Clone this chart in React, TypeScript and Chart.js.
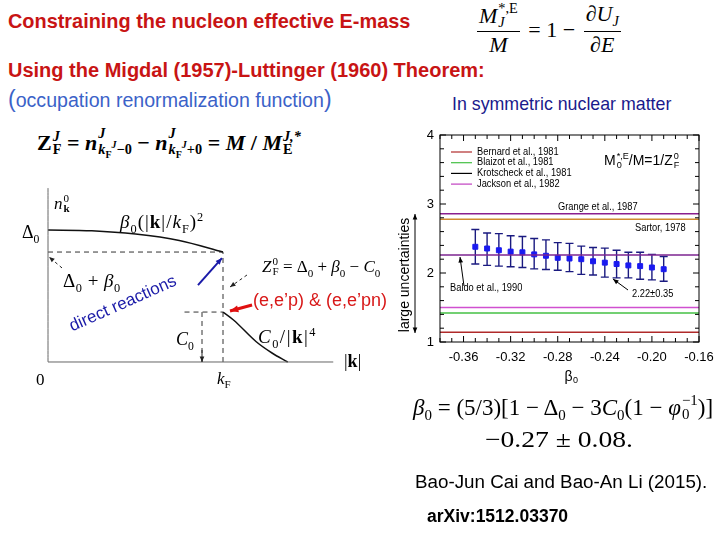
import React, { useEffect, useRef } from "react";
import { Chart, registerables } from "chart.js";
Chart.register(...registerables);

// ---------- main chart data ----------
const betaValues = [-0.35, -0.34, -0.33, -0.32, -0.31, -0.3, -0.29, -0.28, -0.27, -0.26, -0.25, -0.24, -0.23, -0.22, -0.21, -0.2, -0.19];
const mStarValues = [2.38, 2.355, 2.33, 2.31, 2.3, 2.27, 2.25, 2.22, 2.21, 2.2, 2.17, 2.15, 2.13, 2.11, 2.1, 2.08, 2.055];
const errUpper = [2.63, 2.58, 2.57, 2.54, 2.53, 2.5, 2.48, 2.44, 2.43, 2.39, 2.37, 2.36, 2.33, 2.3, 2.3, 2.27, 2.24];
const errLower = [2.13, 2.11, 2.1, 2.09, 2.08, 2.06, 2.05, 2.04, 2.02, 1.98, 1.97, 1.94, 1.93, 1.93, 1.91, 1.9, 1.88];

const refNames = ["Grange et al., 1987", "Sartor, 1978", "Baldo et al., 1990", "Jackson et al., 1982", "Blaizot et al., 1981", "Bernard et al., 1981"];
const refValues = [2.86, 2.78, 2.26, 1.5, 1.42, 1.14];
const refColors = ["#8a1f8f", "#d08a30", "#7d2590", "#d050d0", "#44c044", "#b02a2a"];

const legendNames = ["Bernard et al., 1981", "Blaizot et al., 1981", "Krotscheck et al., 1981", "Jackson et al., 1982"];
const legendColors = ["#b02a2a", "#44c044", "#000000", "#c040c0"];

const xTickValues = [-0.36, -0.32, -0.28, -0.24, -0.2, -0.16];
const yTickValues = [1, 2, 3, 4];
const xRange = [-0.38, -0.16];
const yRange = [1, 4];

// ---------- schematic diagram data (k/kF, n) ----------
const upperK = [0, 0.25, 0.5, 0.75, 1.0];
const upperN = [0.88, 0.875, 0.853, 0.81, 0.733];
const lowerK = [1.0, 1.06, 1.19, 1.28, 1.37];
const lowerN = [0.333, 0.28, 0.135, 0.06, 0.0];
const zLevel = 0.733;
const cLevel = 0.333;

function drawArrow(ctx: CanvasRenderingContext2D, x1: number, y1: number, x2: number, y2: number, color: string, width: number, head: number, dash: number[] = [], both = false) {
  ctx.save();
  ctx.strokeStyle = color;
  ctx.fillStyle = color;
  ctx.lineWidth = width;
  ctx.setLineDash(dash);
  ctx.beginPath();
  ctx.moveTo(x1, y1);
  ctx.lineTo(x2, y2);
  ctx.stroke();
  ctx.setLineDash([]);
  const tip = (tx: number, ty: number, fx: number, fy: number) => {
    const a = Math.atan2(ty - fy, tx - fx);
    ctx.beginPath();
    ctx.moveTo(tx, ty);
    ctx.lineTo(tx - head * Math.cos(a - 0.4), ty - head * Math.sin(a - 0.4));
    ctx.lineTo(tx - head * Math.cos(a + 0.4), ty - head * Math.sin(a + 0.4));
    ctx.closePath();
    ctx.fill();
  };
  tip(x2, y2, x1, y1);
  if (both) tip(x1, y1, x2, y2);
  ctx.restore();
}

function text(ctx: CanvasRenderingContext2D, s: string, x: number, y: number, sx = 0.93) {
  ctx.save();
  ctx.translate(x, y);
  ctx.scale(sx, 1);
  ctx.fillText(s, 0, 0);
  ctx.restore();
}

const mainPlugin = {
  id: "mainDeco",
  beforeDatasetsDraw(chart: any) {
    const { ctx, scales } = chart;
    const x = scales.x, y = scales.y;
    ctx.save();
    ctx.strokeStyle = "#1a1a80";
    ctx.lineWidth = 1.4;
    betaValues.forEach((b, i) => {
      const px = x.getPixelForValue(b);
      const yt = y.getPixelForValue(errUpper[i]);
      const yb = y.getPixelForValue(errLower[i]);
      ctx.beginPath();
      ctx.moveTo(px, yt);
      ctx.lineTo(px, yb);
      ctx.moveTo(px - 4, yt);
      ctx.lineTo(px + 4, yt);
      ctx.moveTo(px - 4, yb);
      ctx.lineTo(px + 4, yb);
      ctx.stroke();
    });
    ctx.restore();
  },
  afterDraw(chart: any) {
    const { ctx, chartArea: a, scales } = chart;
    const x = scales.x, y = scales.y;
    ctx.save();
    ctx.strokeStyle = "#000";
    ctx.lineWidth = 1;
    ctx.strokeRect(a.left, a.top, a.right - a.left, a.bottom - a.top);
    ctx.beginPath();
    for (let v = -0.38; v <= -0.1599; v += 0.01) {
      const px = x.getPixelForValue(v);
      const major = xTickValues.some((t) => Math.abs(t - v) < 1e-6);
      const L = major ? 6 : 4;
      ctx.moveTo(px, a.bottom);
      ctx.lineTo(px, a.bottom - L);
      ctx.moveTo(px, a.top);
      ctx.lineTo(px, a.top + L);
    }
    for (let v = 1; v <= 4.0001; v += 0.2) {
      const py = y.getPixelForValue(v);
      const major = yTickValues.some((t) => Math.abs(t - v) < 1e-6);
      const L = major ? 6 : 4;
      ctx.moveTo(a.left, py);
      ctx.lineTo(a.left + L, py);
      ctx.moveTo(a.right, py);
      ctx.lineTo(a.right - L, py);
    }
    ctx.stroke();

    ctx.font = '10px "Liberation Sans", Arial, sans-serif';
    ctx.textBaseline = "middle";
    ctx.fillStyle = "#000";
    legendNames.forEach((n, i) => {
      const ly = a.top + 17 + i * 10.7;
      ctx.strokeStyle = legendColors[i];
      ctx.lineWidth = 1.2;
      ctx.beginPath();
      ctx.moveTo(a.left + 11, ly);
      ctx.lineTo(a.left + 32, ly);
      ctx.stroke();
      text(ctx, n, a.left + 37, ly);
    });

    text(ctx, refNames[0], a.left + 118, a.top + 72);
    text(ctx, refNames[1], a.left + 195, a.top + 93);
    text(ctx, refNames[2], a.left + 10, a.top + 153);
    text(ctx, "2.22\u00b10.35", a.left + 192, a.top + 159);

    drawArrow(ctx, a.left + 24, a.top + 151, a.left + 20, a.top + 122, "#000", 1, 6);
    drawArrow(ctx, a.left + 188, a.top + 155, a.left + 173, a.top + 144, "#000", 1, 6);

    ctx.save();
    ctx.translate(a.left - 35, a.bottom - 67);
    ctx.rotate(-Math.PI / 2);
    ctx.font = '14px "Liberation Sans", Arial, sans-serif';
    ctx.textAlign = "center";
    ctx.fillText("large uncertainties", 0, 0);
    ctx.restore();
    drawArrow(ctx, a.left - 25, a.bottom - 9, a.left - 25, a.top + 79, "#000", 1, 6, [], true);

    const cx = (a.left + a.right) / 2 + 3;
    ctx.font = '14px "Liberation Sans", Arial, sans-serif';
    ctx.textAlign = "right";
    ctx.fillText("\u03b2", cx, a.bottom + 35);
    ctx.font = '9px "Liberation Sans", Arial, sans-serif';
    ctx.textAlign = "left";
    ctx.fillText("0", cx + 0.5, a.bottom + 39);
    ctx.restore();
  },
};

const diagPlugin = {
  id: "diagDeco",
  afterDraw(chart: any) {
    const { ctx, scales } = chart;
    const X = (v: number) => scales.x.getPixelForValue(v);
    const Y = (v: number) => scales.y.getPixelForValue(v);
    drawArrow(ctx, X(0.08), Y(0.627), X(0.006), Y(0.7), "#222", 1, 6, [3, 3]);
    drawArrow(ctx, X(1.137), Y(0.58), X(1.04), Y(0.5), "#222", 1, 6, [3, 3]);
    drawArrow(ctx, X(0.857), Y(0.513), X(0.994), Y(0.693), "#1a1aa8", 2, 7);
    drawArrow(ctx, X(1.166), Y(0.38), X(1.04), Y(0.34), "#e01010", 3, 9);
    drawArrow(ctx, X(0.88), Y(0.08), X(0.88), Y(0.0), "#222", 1, 6);
  },
};

const pts = (xs: number[], ys: number[]) => xs.map((v, i) => ({ x: v, y: ys[i] }));

function MainChart() {
  const ref = useRef<HTMLCanvasElement>(null);
  useEffect(() => {
    const lineSets = refValues.map((v, i) => ({
      label: refNames[i],
      data: [{ x: xRange[0], y: v }, { x: xRange[1], y: v }],
      showLine: true,
      borderColor: refColors[i],
      borderWidth: 1.5,
      pointRadius: 0,
    }));
    const chart = new Chart(ref.current!, {
      type: "scatter",
      data: {
        datasets: [
          ...lineSets,
          {
            label: "M*/M",
            data: pts(betaValues, mStarValues),
            pointStyle: "rect",
            pointRadius: 3.5,
            backgroundColor: "#1a1af0",
            borderColor: "#1a1af0",
            borderWidth: 1,
          } as any,
        ],
      },
      options: {
        animation: false,
        responsive: false,
        layout: { padding: { left: 0, right: 16, top: 20, bottom: 0 } },
        plugins: { legend: { display: false }, tooltip: { enabled: false } },
        scales: {
          x: {
            type: "linear",
            min: xRange[0],
            max: xRange[1],
            grid: { display: false, drawTicks: false },
            border: { display: false },
            afterBuildTicks: (s: any) => {
              s.ticks = xTickValues.map((v) => ({ value: v }));
            },
            afterFit: (s: any) => {
              s.height = 53;
              s.paddingLeft = 0;
              s.paddingRight = 0;
            },
            ticks: {
              padding: 8,
              color: "#000",
              font: { family: '"Liberation Sans", Arial, sans-serif', size: 13 },
              callback: (v: any) => Number(v).toFixed(2),
              maxRotation: 0,
              autoSkip: false,
            },
          },
          y: {
            type: "linear",
            min: yRange[0],
            max: yRange[1],
            grid: { display: false, drawTicks: false },
            border: { display: false },
            afterBuildTicks: (s: any) => {
              s.ticks = yTickValues.map((v) => ({ value: v }));
            },
            afterFit: (s: any) => {
              s.width = 45;
              s.paddingTop = 0;
              s.paddingBottom = 0;
            },
            ticks: {
              padding: 6,
              color: "#000",
              font: { family: '"Liberation Sans", Arial, sans-serif', size: 13 },
            },
          },
        },
      },
      plugins: [mainPlugin],
    });
    return () => chart.destroy();
  }, []);
  return <canvas ref={ref} width={320} height={280} style={{ position: "absolute", left: 395, top: 115, width: 320, height: 280 }} />;
}

function Diagram() {
  const ref = useRef<HTMLCanvasElement>(null);
  useEffect(() => {
    const solid = (data: any[], w = 1.4, color = "#111") => ({
      data,
      showLine: true,
      borderColor: color,
      borderWidth: w,
      pointRadius: 0,
      cubicInterpolationMode: "monotone",
      clip: false,
    });
    const dashed = (data: any[]) => ({
      data,
      showLine: true,
      borderColor: "#333",
      borderWidth: 1,
      borderDash: [5, 4],
      pointRadius: 0,
      clip: false,
    });
    const chart = new Chart(ref.current!, {
      type: "scatter",
      data: {
        datasets: [
          solid([{ x: 0, y: 0 }, { x: 0, y: 1.16 }], 1, "#666"),
          solid([{ x: 0, y: 0 }, { x: 1.63, y: 0 }], 1, "#666"),
          solid(pts(upperK, upperN), 1.5),
          solid(pts(lowerK, lowerN), 1.5),
          dashed([{ x: 0, y: zLevel }, { x: 1, y: zLevel }]),
          dashed([{ x: 1, y: 0 }, { x: 1, y: zLevel }]),
          dashed([{ x: 0.78, y: cLevel }, { x: 1, y: cLevel }]),
          dashed([{ x: 0.88, y: 0 }, { x: 0.88, y: cLevel }]),
        ] as any,
      },
      options: {
        animation: false,
        responsive: false,
        layout: { padding: 0 },
        plugins: { legend: { display: false }, tooltip: { enabled: false } },
        scales: {
          x: { type: "linear", min: -0.1029, max: 1.84, display: false },
          y: { type: "linear", min: -0.12, max: 1.2133, display: false },
        },
      },
      plugins: [diagPlugin],
    });
    return () => chart.destroy();
  }, []);
  return <canvas ref={ref} width={340} height={200} style={{ position: "absolute", left: 30, top: 180, width: 340, height: 200 }} />;
}

const SS = ({ sup, sub, size = 0.65, va = "-0.3em" }: any) => (
  <span style={{ display: "inline-block", fontSize: size + "em", lineHeight: 0.95, verticalAlign: va, textAlign: "left", marginLeft: 1, letterSpacing: 0 }}>
    <span style={{ display: "block" }}>{sup}</span>
    <span style={{ display: "block" }}>{sub}</span>
  </span>
);

const Frac = ({ num, den }: any) => (
  <span style={{ display: "inline-flex", flexDirection: "column", alignItems: "center", verticalAlign: "middle", margin: "0 3px" }}>
    <span style={{ borderBottom: "1.4px solid #000", padding: "0 2px 1px", lineHeight: 1.1 }}>{num}</span>
    <span style={{ lineHeight: 1.15 }}>{den}</span>
  </span>
);

const sub = (s: any) => <sub style={{ fontSize: "0.65em" }}>{s}</sub>;
const sup = (s: any) => <sup style={{ fontSize: "0.65em" }}>{s}</sup>;

const serif = '"Liberation Serif", "DejaVu Serif", serif';
const sans = '"Liberation Sans", Arial, sans-serif';
const abs = (left: number, top: number, extra: any = {}) => ({ position: "absolute" as const, left, top, whiteSpace: "nowrap" as const, lineHeight: 1, ...extra });

export default function App() {
  useEffect(() => {
    document.body.style.margin = "0";
  }, []);
  const red = "#c81414";
  return (
    <div style={{ position: "absolute", left: 0, top: 0, width: 720, height: 540, overflow: "hidden", background: "#fff", fontFamily: sans, color: "#000" }}>
      <div style={abs(8, 12, { color: red, fontWeight: "bold", fontSize: 19.9 })}>Constraining the nucleon effective E-mass</div>
      <div style={abs(474, 2, { fontFamily: serif, fontSize: 22 })}>
        <Frac num={<span><i>M</i><SS sup="*,E" sub={<i>J</i>} /></span>} den={<i>M</i>} />
        <span style={{ verticalAlign: "middle" }}> = 1 − </span>
        <Frac num={<span>∂<i>U</i>{sub(<i>J</i>)}</span>} den={<span>∂<i>E</i></span>} />
      </div>
      <div style={abs(8, 60, { color: red, fontWeight: "bold", fontSize: 20 })}>Using the Migdal (1957)-Luttinger (1960) Theorem:</div>
      <div style={abs(8, 88, { color: "#3b62c8", fontSize: 19.6 })}>
        <span style={{ fontSize: 23 }}>(</span>occupation renormalization function<span style={{ fontSize: 23 }}>)</span>
      </div>
      <div style={abs(452, 96, { color: "#1a1a8c", fontSize: 17.8 })}>In symmetric nuclear matter</div>

      <div style={abs(37, 127, { fontFamily: serif, fontSize: 22, fontWeight: "bold" })}>
        Z<SS sup={<i>J</i>} sub="F" />
        {" = "}
        <i>n</i>
        <SS sup={<i>J</i>} sub={<span><i>k</i><sub style={{ fontSize: "0.7em" }}>F</sub><sup style={{ fontSize: "0.7em" }}><i>J</i></sup>−0</span>} />
        {" − "}
        <i>n</i>
        <SS sup={<i>J</i>} sub={<span><i>k</i><sub style={{ fontSize: "0.7em" }}>F</sub><sup style={{ fontSize: "0.7em" }}><i>J</i></sup>+0</span>} />
        {" = "}
        <i>M</i> / <i>M</i>
        <SS sup={<i>J,*</i>} sub="E" />
      </div>

      <Diagram />
      <div style={abs(54, 193, { fontFamily: serif, fontSize: 17 })}><i>n</i><SS sup="0" sub={<b>k</b>} /></div>
      <div style={abs(22, 223, { fontFamily: serif, fontSize: 18 })}>Δ{sub("0")}</div>
      <div style={abs(120, 211, { fontFamily: serif, fontSize: 19, letterSpacing: 1 })}>
        <i>β</i>{sub("0")}(|<b>k</b>|/<i>k</i>{sub("F")}){sup("2")}
      </div>
      <div style={abs(63, 271, { fontFamily: serif, fontSize: 19, letterSpacing: 0.5 })}>
        Δ{sub("0")} + <i>β</i>{sub("0")}
      </div>
      <div style={abs(262, 256, { fontFamily: serif, fontSize: 17 })}>
        <i>Z</i><SS sup="0" sub="F" /> = Δ{sub("0")} + <i>β</i>{sub("0")} − <i>C</i>{sub("0")}
      </div>
      <div style={abs(176, 330, { fontFamily: serif, fontSize: 18 })}><i>C</i>{sub("0")}</div>
      <div style={abs(258, 326, { fontFamily: serif, fontSize: 19, letterSpacing: 1.5 })}>
        <i>C</i>{sub("0")}/|<b>k</b>|{sup("4")}
      </div>
      <div style={abs(36, 371, { fontFamily: serif, fontSize: 17 })}>0</div>
      <div style={abs(217, 370, { fontFamily: serif, fontSize: 17 })}><i>k</i>{sub("F")}</div>
      <div style={abs(344, 352, { fontFamily: serif, fontSize: 18 })}>|<b>k</b>|</div>
      <div style={abs(70, 318, { color: "#1a1aa8", fontSize: 17, transform: "rotate(-24deg)", transformOrigin: "0 50%" })}>direct reactions</div>
      <div style={abs(253, 291, { color: "#d81818", fontSize: 18 })}>(e,e’p) &amp; (e,e’pn)</div>

      <MainChart />
      <div style={abs(604, 152, { fontSize: 14 })}>
        M<SS sup="*,E" sub="0" />/M=1/Z<SS sup="0" sub="F" />
      </div>

      <div style={abs(413, 393, { fontFamily: serif, fontSize: 23 })}>
        <i>β</i>{sub("0")} = (5/3)[1 − Δ{sub("0")} − 3<i>C</i>{sub("0")}(1 − <i>φ</i><SS sup="−1" sub="0" />)]
      </div>
      <div style={abs(485, 428, { fontFamily: serif, fontSize: 23, transform: "scaleX(1.2)", transformOrigin: "0 50%" })}>−0.27 ± 0.08.</div>
      <div style={abs(415, 473, { fontSize: 18.8 })}>Bao-Jun Cai and Bao-An Li (2015).</div>
      <div style={abs(427, 508, { fontSize: 17.5, fontWeight: "bold" })}>arXiv:1512.03370</div>
    </div>
  );
}
